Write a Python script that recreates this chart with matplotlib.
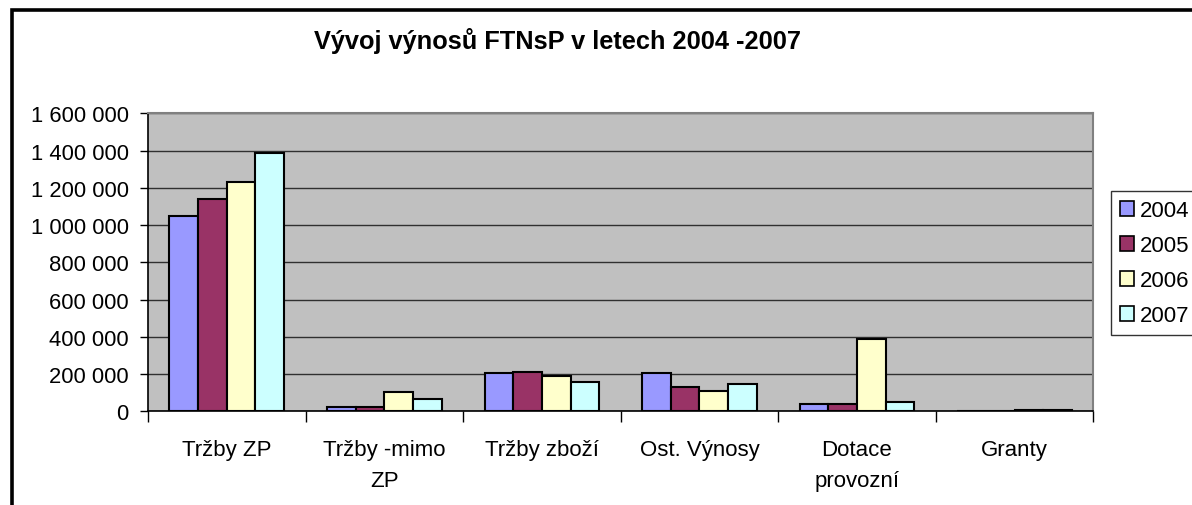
import matplotlib
matplotlib.use("Agg")
import matplotlib.pyplot as plt
import numpy as np
from matplotlib.patches import Rectangle, Patch
from matplotlib.ticker import FuncFormatter, FixedLocator

categories = ["Tržby ZP", "Tržby -mimo\nZP", "Tržby zboží", "Ost. Výnosy", "Dotace\nprovozní", "Granty"]
years = ["2004", "2005", "2006", "2007"]
v2004 = [1050000, 21500, 208000, 208000, 39300, 0]
v2005 = [1138000, 21500, 213000, 129000, 39300, 0]
v2006 = [1229000, 105700, 188500, 107700, 389300, 8000]
v2007 = [1385500, 66400, 156000, 148600, 50000, 8000]
series = [v2004, v2005, v2006, v2007]
colors = ["#9999FF", "#993366", "#FFFFCC", "#CCFFFF"]
title = "Vývoj výnosů FTNsP v letech 2004 -2007"
yticks = [0, 200000, 400000, 600000, 800000, 1000000, 1200000, 1400000, 1600000]

plt.rcParams['font.family'] = ['Liberation Sans', 'DejaVu Sans']

W, H = 1192, 506
fig = plt.figure(figsize=(W / 100, H / 100), dpi=100)
fig.patch.set_facecolor("white")

ax = fig.add_axes([148 / W, 1 - 412.3 / H, (1093.3 - 148) / W, (412.3 - 114.3) / H])
ax.set_facecolor("#C0C0C0")

n = len(categories)
gap = 1.5
bw = 1.0 / (len(series) + gap)
x = np.arange(n)
for i, (vals, c, yr) in enumerate(zip(series, colors, years)):
    offs = -0.5 + gap * bw / 2 + bw * (i + 0.5)
    ax.bar(x + offs, vals, width=bw, color=c, edgecolor="black", linewidth=1.5, label=yr, zorder=3)

ax.set_xlim(-0.5, n - 0.5)
ax.set_ylim(0, 1600000)
ax.yaxis.set_major_locator(FixedLocator(yticks))
ax.yaxis.set_major_formatter(FuncFormatter(lambda v, p: f"{int(v):,}".replace(",", " ")))
ax.grid(axis="y", color="#303030", linewidth=1.0, zorder=1)
ax.set_axisbelow(True)

ax.set_xticks(np.arange(n + 1) - 0.5)
ax.set_xticklabels([])
ax.set_xticks(x, minor=True)
ax.set_xticklabels(categories, minor=True, fontsize=16, linespacing=1.64)
ax.tick_params(axis="x", which="major", direction="out", length=8, width=1, color="black")
ax.tick_params(axis="x", which="minor", length=0, pad=20)
ax.tick_params(axis="y", direction="out", length=6, width=1, color="black", labelsize=15.8, pad=8)

for s in ["left", "bottom"]:
    ax.spines[s].set_color("black")
    ax.spines[s].set_linewidth(1.2)
for s in ["top", "right"]:
    ax.spines[s].set_color("#808080")
    ax.spines[s].set_linewidth(1.5)

fig.text(558 / W, 1 - 49.5 / H, title, ha="center", va="baseline", fontsize=18.3, fontweight="bold")

handles = [Patch(facecolor=c, edgecolor="black", linewidth=1.2) for c in colors]
leg = fig.legend(handles, years, loc="upper left", bbox_to_anchor=(1110.7 / W, 1 - 192.3 / H),
                 bbox_transform=fig.transFigure, fontsize=16, frameon=True, fancybox=False,
                 edgecolor="black", borderaxespad=0, handlelength=0.63, handleheight=0.63,
                 handletextpad=0.29, labelspacing=0.63, borderpad=0.4)
leg.get_frame().set_linewidth(1.0)

fig.patches.append(Rectangle((12 / W, -0.1), 1.2, 1 - 11 / H + 0.1, transform=fig.transFigure,
                             fill=False, edgecolor="black", linewidth=2.6, zorder=10))

fig.savefig("out.png", dpi=100)
